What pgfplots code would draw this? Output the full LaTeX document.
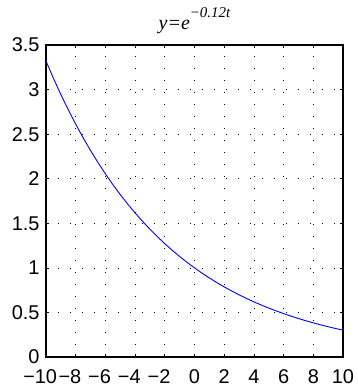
\documentclass[border=0pt]{standalone}
\usepackage{pgfplots}
\pgfplotsset{compat=1.18}
\usepackage{fontspec}
\setmainfont{Liberation Sans}
\newfontfamily\tnr{Liberation Serif}
\begin{document}
\begin{tikzpicture}[x=1bp,y=1bp]
\begin{axis}[
  scale only axis,
  width=297bp, height=312bp,
  xmin=-10, xmax=10, ymin=0, ymax=3.5,
  xtick={-10,-8,...,10},
  xticklabels={\llap{−}10,\llap{−}8,\llap{−}6,\llap{−}4,\llap{−}2,0,2,4,6,8,10},
  ytick={0,0.5,...,3.5},
  yticklabels={0,0.5,1,1.5,2,2.5,3,3.5},
  tick align=inside,
  tick pos=both,
  major tick length=3bp,
  axis line style={line width=1.2bp},
  tick style={line width=0.6bp, black},
  grid=major,
  grid style={black, line width=0.6bp, dash pattern=on 0.6bp off 11.4bp},
  ticklabel style={font=\fontsize{20}{22}\selectfont},
  xticklabel style={yshift=-9bp},
  yticklabel style={xshift=-3bp},
  /pgf/number format/assume math mode=true,
  title={{\itshape y=e}\raisebox{12bp}{\itshape\fontsize{15}{16}\selectfont −0.12t}},
  title style={font=\tnr\fontsize{20}{22}\selectfont, anchor=base, at={(0.5,1)}, yshift=10bp},
]
\addplot[blue, line width=0.9bp] coordinates {
(-10,3.3201) (-9.5,3.1268) (-9,2.9447) (-8.5,2.7732) (-8,2.6117) (-7.5,2.4596)
(-7,2.3164) (-6.5,2.1815) (-6,2.0544) (-5.5,1.9348) (-5,1.8221) (-4.5,1.7160)
(-4,1.6161) (-3.5,1.5220) (-3,1.4333) (-2.5,1.3499) (-2,1.2712) (-1.5,1.1972)
(-1,1.1275) (-0.5,1.0618) (0,1.0000) (0.5,0.9418) (1,0.8869) (1.5,0.8353)
(2,0.7866) (2.5,0.7408) (3,0.6977) (3.5,0.6570) (4,0.6188) (4.5,0.5827)
(5,0.5488) (5.5,0.5169) (6,0.4868) (6.5,0.4584) (7,0.4317) (7.5,0.4066)
(8,0.3829) (8.5,0.3606) (9,0.3396) (9.5,0.3198) (10,0.3012)
};
\end{axis}
\path (-46bp,-30bp) rectangle (310bp,357bp);
\end{tikzpicture}
\end{document}
